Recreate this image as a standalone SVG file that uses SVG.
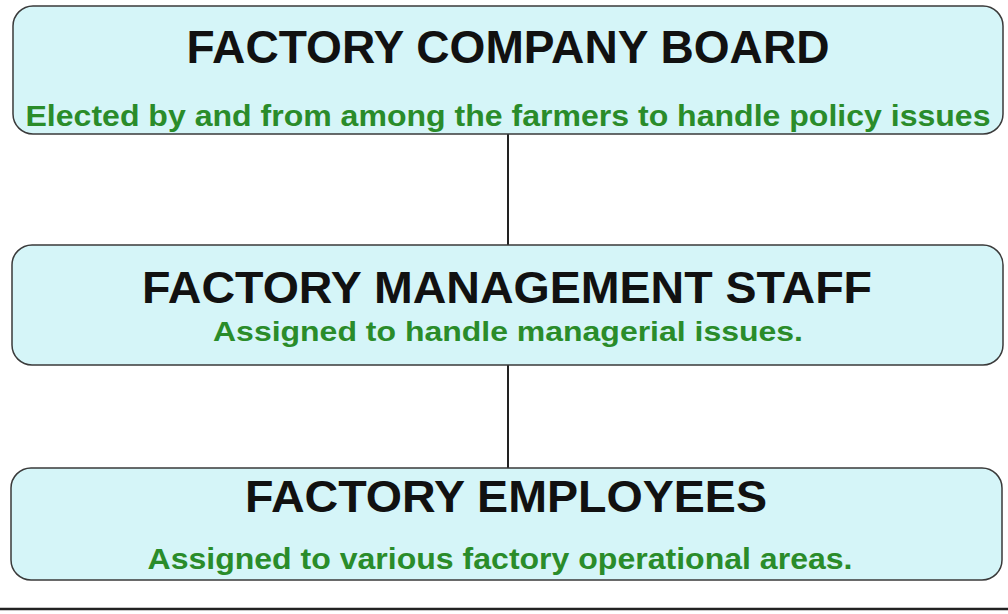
<svg xmlns="http://www.w3.org/2000/svg" width="1008" height="614" viewBox="0 0 1008 614">
<style>
.box{fill:#d5f5f8;stroke:#3a3a3a;stroke-width:1.5}
.t{font-family:"Liberation Sans",Arial,sans-serif;font-weight:bold;fill:#111;text-anchor:middle}
.s{font-family:"Liberation Sans",Arial,sans-serif;font-weight:bold;fill:#2a8c2a;text-anchor:middle}
.c{stroke:#222;stroke-width:2;fill:none}
</style>
<rect width="1008" height="614" fill="#fff"/>
<g id="connectors">
<line class="c" x1="508" y1="134" x2="508" y2="245"/>
<line class="c" x1="508" y1="365" x2="508" y2="468"/>
</g>
<g id="board">
<rect class="box" x="13" y="6" width="990" height="128" rx="20"/>
<text class="t" x="508" y="63" font-size="46" textLength="643" lengthAdjust="spacingAndGlyphs">FACTORY COMPANY BOARD</text>
<text class="s" x="508" y="126" font-size="29.5" textLength="965" lengthAdjust="spacingAndGlyphs">Elected by and from among the farmers to handle policy issues</text>
</g>
<g id="management">
<rect class="box" x="12" y="245" width="991" height="120" rx="20"/>
<text class="t" x="507" y="303" font-size="45" textLength="730" lengthAdjust="spacingAndGlyphs">FACTORY MANAGEMENT STAFF</text>
<text class="s" x="508" y="341" font-size="28.5" textLength="590" lengthAdjust="spacingAndGlyphs">Assigned to handle managerial issues.</text>
</g>
<g id="employees">
<rect class="box" x="11" y="468" width="991" height="112" rx="20"/>
<text class="t" x="506" y="512" font-size="44" textLength="522" lengthAdjust="spacingAndGlyphs">FACTORY EMPLOYEES</text>
<text class="s" x="500" y="569" font-size="29" textLength="705" lengthAdjust="spacingAndGlyphs">Assigned to various factory operational areas.</text>
</g>
<line x1="0" y1="609" x2="1008" y2="609" stroke="#222" stroke-width="2.5"/>
</svg>
